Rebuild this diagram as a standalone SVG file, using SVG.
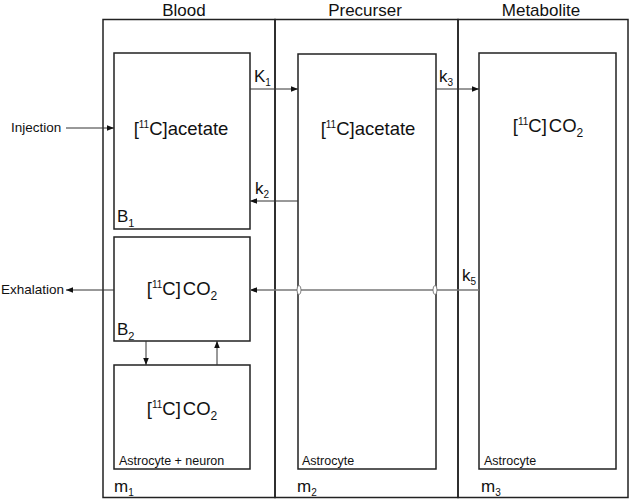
<svg xmlns="http://www.w3.org/2000/svg" width="630" height="500" viewBox="0 0 630 500">
<style>
.box{fill:none;stroke:#222;stroke-width:1.5}
.outer{fill:none;stroke:#222;stroke-width:1.5}
.t{font-family:"Liberation Sans",Arial,sans-serif;fill:#111}
.hd{font-size:17px;text-anchor:middle}
.main{font-size:18.5px;text-anchor:middle}
.sm{font-size:12.5px}
.io{font-size:13.5px}
.lbl{font-size:17px}
.ln{fill:none;stroke:#333;stroke-width:1}
.gl{fill:none;stroke:#777;stroke-width:1.5}
</style>
<defs>
<marker id="ah" viewBox="0 0 10 10" refX="10" refY="5" markerWidth="7" markerHeight="7" orient="auto" markerUnits="userSpaceOnUse">
<path d="M0,1 L10,5 L0,9 z" fill="#111"/>
</marker>
</defs>
<g id="headers">
<text class="t hd" x="184" y="16">Blood</text>
<text class="t hd" x="365" y="16">Precurser</text>
<text class="t hd" x="541" y="16">Metabolite</text>
</g>
<g id="blood">
<rect class="outer" x="103" y="19.5" width="172" height="478"/>
<text class="t lbl" x="114" y="492">m<tspan font-size="10" dy="4">1</tspan></text>
</g>
<g id="precurser">
<rect class="outer" x="275" y="19.5" width="183" height="478"/>
<text class="t lbl" x="297" y="492">m<tspan font-size="10" dy="4">2</tspan></text>
</g>
<g id="metabolite">
<rect class="outer" x="458" y="19.5" width="170" height="478"/>
<text class="t lbl" x="481" y="492">m<tspan font-size="10" dy="4">3</tspan></text>
</g>
<g id="b1">
<rect class="box" x="114" y="53" width="136" height="176"/>
<text class="t main" x="181" y="135">[<tspan font-size="10" dy="-7">11</tspan><tspan dy="7">C]acetate</tspan></text>
<text class="t lbl" x="117" y="222">B<tspan font-size="11" dy="5">1</tspan></text>
</g>
<g id="b2">
<rect class="box" x="114" y="237" width="136" height="104"/>
<text class="t main" x="182" y="295">[<tspan font-size="10" dy="-7">11</tspan><tspan dy="7">C]</tspan><tspan dx="2">CO</tspan><tspan font-size="12" dy="5">2</tspan></text>
<text class="t lbl" x="117" y="335">B<tspan font-size="11" dy="5">2</tspan></text>
</g>
<g id="tissue1">
<rect class="box" x="114" y="365" width="136" height="104"/>
<text class="t main" x="182" y="415">[<tspan font-size="10" dy="-7">11</tspan><tspan dy="7">C]</tspan><tspan dx="2">CO</tspan><tspan font-size="12" dy="5">2</tspan></text>
<text class="t sm" x="119" y="465">Astrocyte + neuron</text>
</g>
<g id="precursor-box">
<rect class="box" x="298" y="54" width="138" height="415"/>
<text class="t main" x="368" y="135">[<tspan font-size="10" dy="-7">11</tspan><tspan dy="7">C]acetate</tspan></text>
<text class="t sm" x="302" y="465">Astrocyte</text>
</g>
<g id="metabolite-box">
<rect class="box" x="479" y="53" width="137" height="416"/>
<text class="t main" x="548" y="132">[<tspan font-size="10" dy="-7">11</tspan><tspan dy="7">C]</tspan><tspan dx="2">CO</tspan><tspan font-size="12" dy="5">2</tspan></text>
<text class="t sm" x="484" y="465">Astrocyte</text>
</g>
<g id="connectors">
<line class="ln" x1="66" y1="128" x2="114" y2="128" marker-end="url(#ah)"/>
<text class="t io" x="11" y="132">Injection</text>
<line class="ln" x1="250" y1="89" x2="298" y2="89" marker-end="url(#ah)"/>
<text class="t lbl" x="254" y="82">K<tspan font-size="10" dy="4">1</tspan></text>
<line class="ln" x1="298" y1="201" x2="250" y2="201" marker-end="url(#ah)"/>
<text class="t lbl" x="255" y="194">k<tspan font-size="10" dy="4">2</tspan></text>
<line class="ln" x1="436" y1="89" x2="479" y2="89" marker-end="url(#ah)"/>
<text class="t lbl" x="439" y="82">k<tspan font-size="10" dy="4">3</tspan></text>
<line class="gl" x1="479" y1="290" x2="250" y2="290" marker-end="url(#ah)"/>
<ellipse cx="299" cy="290" rx="2" ry="4.5" fill="#fff" stroke="#666" stroke-width="0.8"/>
<ellipse cx="435" cy="290" rx="2" ry="4.5" fill="#fff" stroke="#666" stroke-width="0.8"/>
<text class="t lbl" x="462" y="281">k<tspan font-size="10" dy="4">5</tspan></text>
<line class="ln" x1="114" y1="290" x2="66" y2="290" marker-end="url(#ah)"/>
<text class="t io" x="1" y="294">Exhalation</text>
<line class="ln" x1="146" y1="341" x2="146" y2="365" marker-end="url(#ah)"/>
<line class="ln" x1="217" y1="365" x2="217" y2="341" marker-end="url(#ah)"/>
</g>
</svg>
